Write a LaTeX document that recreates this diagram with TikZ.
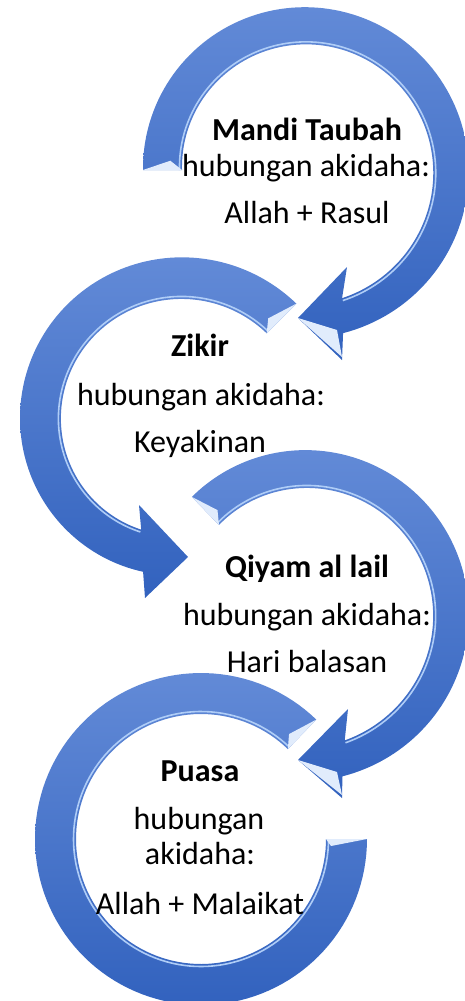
\documentclass[tikz,border=0pt]{standalone}
\usepackage{fontspec}
\setmainfont{Carlito}
\definecolor{arrowtop}{RGB}{98,138,215}
\definecolor{arrowbot}{RGB}{50,98,190}
\definecolor{hlblue}{RGB}{175,205,247}
\definecolor{facetc}{RGB}{225,236,252}
\tikzset{
  bandfill/.style={top color=arrowtop, bottom color=arrowbot},
  innerhl/.style={draw=hlblue, line width=1.6pt},
  facet/.style={fill=facetc},
  lbl/.style={anchor=base, inner sep=0pt, text=black, font=\fontsize{32}{38}\selectfont},
  ttl/.style={anchor=base, inner sep=0pt, text=black, font=\fontsize{32}{38}\selectfont\bfseries},
}
% centre x, centre y, tail angle, outer end angle, inner end angle,
% outer radius at tail, outer radius at end, inner radius at tail, inner radius at end
\newcommand{\setband}[9]{\def\bcx{#1}\def\bcy{#2}\def\ba{#3}\def\bbo{#4}\def\bbi{#5}\def\bRa{#6}\def\bRb{#7}\def\bra{#8}\def\brb{#9}}
\newcommand{\bandall}[1]{%
  \pgfmathsetmacro\bs{((\bbo)>(\ba))?1:-1}%
  \shade[bandfill]
    plot[domain=\ba:\bbo, samples=120, variable=\t]
      ({\bcx+(\bRa+(\bRb-\bRa)*(\t-(\ba))/((\bbo)-(\ba)))*cos(\t)},
       {\bcy+(\bRa+(\bRb-\bRa)*(\t-(\ba))/((\bbo)-(\ba)))*sin(\t)})
    #1
    -- plot[domain=\bbi:\ba, samples=120, variable=\t]
      ({\bcx+(\bra+(\brb-\bra)*(\t-(\ba))/((\bbi)-(\ba)))*cos(\t)},
       {\bcy+(\bra+(\brb-\bra)*(\t-(\ba))/((\bbi)-(\ba)))*sin(\t)})
    -- cycle;
  \draw[innerhl]
    plot[domain=\bbi:\ba, samples=120, variable=\t]
      ({\bcx+(\bra+2.5+(\brb-\bra)*(\t-(\ba))/((\bbi)-(\ba)))*cos(\t)},
       {\bcy+(\bra+2.5+(\brb-\bra)*(\t-(\ba))/((\bbi)-(\ba)))*sin(\t)});
  \fill[facet] ({\bcx+\bRa*cos(\ba)},{\bcy+\bRa*sin(\ba)})
    -- ({\bcx+\bra*cos(\ba)},{\bcy+\bra*sin(\ba)})
    -- ({\bcx+(\bra+12)*cos(\ba+4*\bs)},{\bcy+(\bra+12)*sin(\ba+4*\bs)}) -- cycle;
}
\begin{document}
\begin{tikzpicture}[x=1pt,y=-1pt]
\useasboundingbox (0,0) rectangle (465,1001);
% arrow 1
\setband{303}{170}{180}{436.2}{433.05}{160}{168}{121}{134}
\bandall{-- (342,360) -- (298,318) -- (347,267)}
\fill[facet] (298,318) -- (337,330) -- (342,357) -- cycle;
% arrow 2
\setband{179}{421}{-45}{-256.6}{-250.8}{166}{155}{124}{115}
\bandall{-- (145,598) -- (188,557) -- (139,505)}
% arrow 3
\setband{303}{612}{226}{436.5}{432}{160}{169}{121}{135}
\bandall{-- (342,798) -- (298,760) -- (348,709)}
\fill[facet] (298,760) -- (337,772) -- (342,795) -- cycle;
% arrow 4
\setband{201}{839}{-46}{-360}{-360}{166}{166}{125}{125}
\bandall{}
\fill[facet] (367,839) -- (326,839) -- (331,846) -- cycle;
% texts
\node[ttl] (t1) at (307,140) {Mandi Taubah};
\node[lbl] (h1) at (306,176) {hubungan akidaha:};
\node[lbl] (v1) at (307,223) {Allah + Rasul};
\node[ttl] (t2) at (200,356) {Zikir};
\node[lbl] (h2) at (201,405) {hubungan akidaha:};
\node[lbl] (v2) at (200,452) {Keyakinan};
\node[ttl] (t3) at (307,577) {Qiyam al lail};
\node[lbl] (h3) at (307,625) {hubungan akidaha:};
\node[lbl] (v3) at (307,672) {Hari balasan};
\node[ttl] (t4) at (200,781) {Puasa};
\node[lbl] (h4) at (199,829) {hubungan};
\node[lbl] (a4) at (200,864) {akidaha:};
\node[lbl] (v4) at (200,914) {Allah + Malaikat};
\end{tikzpicture}
\end{document}
